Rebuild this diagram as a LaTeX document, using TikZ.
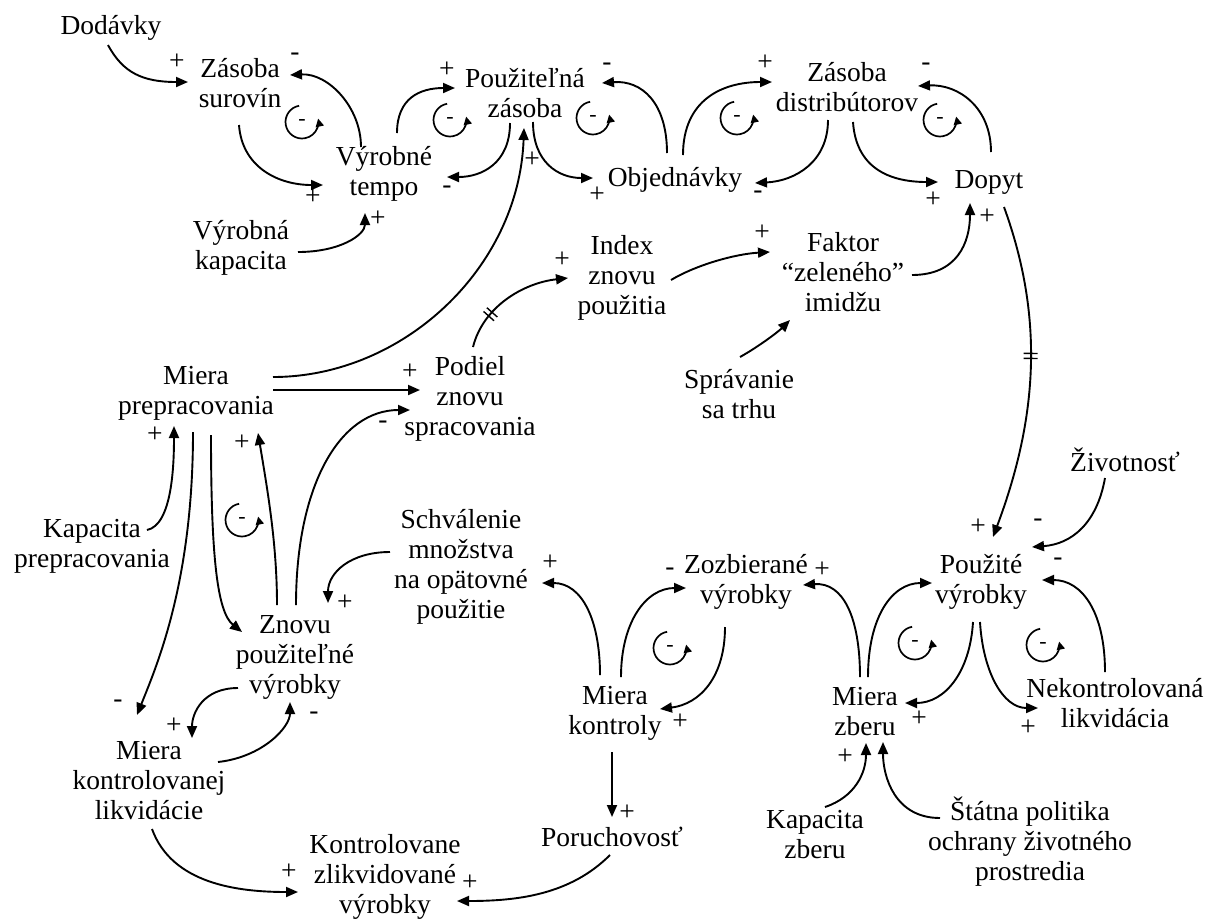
\documentclass[tikz,border=0pt]{standalone}
\usepackage{fontspec}
\setmainfont{Liberation Serif}
\usetikzlibrary{arrows.meta,decorations.markings}
\begin{document}
\begin{tikzpicture}[x=1pt,y=-1pt,
  lbl/.style={align=center,inner sep=0pt,font=\fontsize{27.5}{30}\selectfont},
  sgn/.style={inner sep=0pt,font=\fontsize{27.5}{30}\selectfont},
  lps/.style={inner sep=0pt,font=\fontsize{22}{24}\selectfont},
  arr/.style={line width=1.9pt,-{Triangle[length=12pt,width=10pt]}},
  lparr/.style={line width=1.7pt,-{Triangle[length=8pt,width=8pt]}},
  delay/.style={postaction={decorate,decoration={markings,
     mark=at position #1 with {\draw[line width=1.4pt,-] (-2.5pt,-7pt)--(-2.5pt,7pt) (2.5pt,-7pt)--(2.5pt,7pt);}}}}
]
\path[fill=white,use as bounding box] (0,0) rectangle (1208,922);

% ---------- variables ----------
\node[lbl] (dod) at (111,28) {Dodávky};
\node[lbl] (zs)  at (240,83) {Zásoba\\surovín};
\node[lbl] (vt)  at (384,174) {Výrobné\\tempo};
\node[lbl] (vk)  at (241,248) {Výrobná\\kapacita};
\node[lbl] (pz)  at (525,93) {Použiteľná\\zásoba};
\node[lbl] (obj) at (675,180) {Objednávky};
\node[lbl] (zd)  at (847,87) {Zásoba\\distribútorov};
\node[lbl] (dop) at (989,182) {Dopyt};
\node[lbl] (idx) at (622,278) {Index\\znovu\\použitia};
\node[lbl] (fak) at (843,272) {Faktor\\“zeleného”\\imidžu};
\node[lbl] (spr) at (739,394) {Správanie\\sa trhu};
\node[lbl] (pod) at (470,399) {Podiel\\znovu\\spracovania};
\node[lbl] (mp)  at (196,393) {Miera\\prepracovania};
\node[lbl] (kp)  at (92,546) {Kapacita\\prepracovania};
\node[lbl] (sch) at (461,567) {Schválenie\\množstva\\na opätovné\\použitie};
\node[lbl] (zoz) at (746,582) {Zozbierané\\výrobky};
\node[lbl] (pv)  at (981,582) {Použité\\výrobky};
\node[lbl] (ziv) at (1125,460) {Životnosť};
\node[lbl] (znp) at (295,657) {Znovu\\použiteľné\\výrobky};
\node[lbl] (mk)  at (615,713) {Miera\\kontroly};
\node[lbl] (mz)  at (865,712) {Miera\\zberu};
\node[lbl] (nl)  at (1115,703) {Nekontrolovaná\\likvidácia};
\node[lbl] (mkl) at (149,781) {Miera\\kontrolovanej\\likvidácie};
\node[lbl] (por) at (612,837) {Poruchovosť};
\node[lbl] (kzv) at (385,877) {Kontrolovane\\zlikvidované\\výrobky};
\node[lbl] (kz)  at (815,835) {Kapacita\\zberu};
\node[lbl] (sp)  at (1030,842) {Štátna politika\\ochrany životného\\prostredia};

% ---------- links ----------
\draw[arr] ([shift={(-3,17)}]dod.center) .. controls +(15,28) and +(-45,0) .. ([shift={(-52,-1)}]zs.center);
\draw[arr] ([shift={(-23,-27)}]vt.center) .. controls +(0,-40) and +(38,-2) .. ([shift={(50,-8)}]zs.center);
\draw[arr] ([shift={(-1,42)}]zs.center) .. controls +(3,42) and +(-45,0) .. ([shift={(-61,11)}]vt.center);
\draw[arr] ([shift={(57,4)}]vk.center) .. controls +(42,0) and +(0,22) .. ([shift={(-19,39)}]vt.center);
\draw[arr] ([shift={(13,-41)}]vt.center) .. controls +(0,-35) and +(-35,0) .. ([shift={(-70,-5)}]pz.center);
\draw[arr] ([shift={(-15,30)}]pz.center) .. controls +(0,40) and +(35,0) .. ([shift={(63,3)}]vt.center);
\draw[arr] ([shift={(8,29)}]pz.center) .. controls +(0,40) and +(-35,0) .. ([shift={(-82,-2)}]obj.center);
\draw[arr] ([shift={(-8,-27)}]obj.center) .. controls +(0,-50) and +(40,-3) .. ([shift={(77,-10)}]pz.center);
\draw[arr] ([shift={(8,-25)}]obj.center) .. controls +(0,-55) and +(-50,0) .. ([shift={(-75,-5)}]zd.center);
\draw[arr] ([shift={(-19,33)}]zd.center) .. controls +(0,42) and +(40,-2) .. ([shift={(80,3)}]obj.center);
\draw[arr] ([shift={(6,35)}]zd.center) .. controls +(3,45) and +(-50,0) .. ([shift={(-51,0)}]dop.center);
\draw[arr] ([shift={(2,-30)}]dop.center) .. controls +(0,-45) and +(40,-2) .. ([shift={(71,-1)}]zd.center);
\draw[arr] ([shift={(69,3)}]fak.center) .. controls +(45,0) and +(0,40) .. ([shift={(-19,21)}]dop.center);
\draw[arr] ([shift={(49,2)}]idx.center) .. controls +(25,-15) and +(-35,2) .. ([shift={(-73,-20)}]fak.center);
\draw[arr] ([shift={(1,-37)}]spr.center) .. controls +(18,-10) and +(-12,12) .. ([shift={(-53,48)}]fak.center);
\draw[arr,delay=0.3] ([shift={(3,-52)}]pod.center) .. controls +(10,-40) and +(-45,5) .. ([shift={(-54,0)}]idx.center);
\draw[arr] ([shift={(77,-16)}]mp.center) .. controls +(130,0) and +(-5,140) .. ([shift={(-1,35)}]pz.center);
\draw[arr] ([shift={(77,-3)}]mp.center) -- ([shift={(-50,-9)}]pod.center);
\draw[arr] ([shift={(1,-52)}]znp.center) .. controls +(0,-120) and +(-70,0) .. ([shift={(-60,11)}]pod.center);
\draw[arr,delay=0.45] ([shift={(15,25)}]dop.center) .. controls +(40,110) and +(45,-120) .. ([shift={(12,-45)}]pv.center);
\draw[arr] ([shift={(-20,18)}]ziv.center) .. controls +(-8,45) and +(40,-3) .. ([shift={(51,-35)}]pv.center);
\draw[arr] ([shift={(-10,-31)}]nl.center) .. controls +(0,-60) and +(40,0) .. ([shift={(61,-2)}]pv.center);
\draw[arr] ([shift={(-1,40)}]pv.center) .. controls +(3,50) and +(-35,0) .. ([shift={(-77,5)}]nl.center);
\draw[arr] ([shift={(-8,40)}]pv.center) .. controls +(-3,50) and +(40,0) .. ([shift={(40,-9)}]mz.center);
\draw[arr] ([shift={(3,-35)}]mz.center) .. controls +(0,-60) and +(-40,0) .. ([shift={(-49,1)}]pv.center);
\draw[arr] ([shift={(-5,-35)}]mz.center) .. controls +(0,-60) and +(40,-3) .. ([shift={(57,3)}]zoz.center);
\draw[arr] ([shift={(-21,45)}]zoz.center) .. controls +(0,50) and +(40,-5) .. ([shift={(45,-4)}]mk.center);
\draw[arr] ([shift={(6,-36)}]mk.center) .. controls +(0,-55) and +(-40,0) .. ([shift={(-60,6)}]zoz.center);
\draw[arr] ([shift={(-15,-38)}]mk.center) .. controls +(0,-55) and +(40,0) .. ([shift={(81,16)}]sch.center);
\draw[arr] ([shift={(-71,-15)}]sch.center) .. controls +(-40,0) and +(0,-30) .. ([shift={(33,-54)}]znp.center);
\draw[arr] ([shift={(15,42)}]mp.center) .. controls +(0,120) and +(-25,-20) .. ([shift={(-53,-25)}]znp.center);
\draw[arr] ([shift={(-18,-52)}]znp.center) .. controls +(0,-60) and +(10,60) .. ([shift={(62,40)}]mp.center);
\draw[arr] ([shift={(55,-16)}]kp.center) .. controls +(25,-5) and +(0,40) .. ([shift={(-22,33)}]mp.center);
\draw[arr] ([shift={(-3,39)}]mp.center) .. controls +(0,150) and +(20,-50) .. ([shift={(-12,-66)}]mkl.center);
\draw[arr] ([shift={(-57,31)}]znp.center) .. controls +(-35,0) and +(0,-25) .. ([shift={(43,-43)}]mkl.center);
\draw[arr] ([shift={(69,-19)}]mkl.center) .. controls +(45,-5) and +(0,25) .. ([shift={(-5,45)}]znp.center);
\draw[arr] ([shift={(3,48)}]mkl.center) .. controls +(20,55) and +(-60,0) .. ([shift={(-87,15)}]kzv.center);
\draw[arr] ([shift={(-2,18)}]por.center) .. controls +(-40,40) and +(60,0) .. ([shift={(72,24)}]kzv.center);
\draw[arr] ([shift={(-3,39)}]mk.center) -- ([shift={(0,-20)}]por.center);
\draw[arr] ([shift={(10,-28)}]kz.center) .. controls +(30,-10) and +(0,30) .. ([shift={(1,31)}]mz.center);
\draw[arr] ([shift={(-90,-24)}]sp.center) .. controls +(-45,0) and +(0,35) .. ([shift={(18,30)}]mz.center);

% ---------- polarity signs ----------
\foreach \n/\s/\x/\y in {s1/+/177/62, s2/-/295/57, s3/+/313/197, s4/+/378/219,
  s5/+/447/70, s6/-/447/190, s7/+/597/195, s8/-/607/67, s9/+/765/63,
  s10/-/758/195, s11/+/933/200, s12/-/926/67, s13/+/987/217, s14/+/762/233,
  s15/+/562/260, s16/+/532/160, s17/+/410/372, s18/-/383/425, s19/+/978/527,
  s20/-/1038/523, s21/-/1058/562, s22/+/1028/728, s23/+/919/719, s24/+/822/570,
  s25/+/680/722, s26/-/670/572, s27/+/550/563, s28/+/345/603, s29/+/242/443,
  s30/+/155/435, s31/-/118/704, s32/+/174/726, s33/-/314/716, s34/+/289/872,
  s35/+/470/883, s36/+/627/813, s37/+/845/757}
  \node[sgn] (\n) at (\x,\y) {\s};

% ---------- loop symbols ----------
\foreach \n/\x/\y in {l1/302/122, l2/450/120, l3/593/118, l4/737/118, l5/940/120,
  l6/1043/645, l7/915/643, l8/670/648, l9/242/520}
  \node[lps] (\n) at (\x,\y) {-};
\begin{scope}[y=1pt]
\foreach \n in {l1,l2,l3,l4,l5,l6,l7,l8,l9}
  \draw[lparr] (\n.center) ++(100:16.5) arc[start angle=100,end angle=372,radius=16.5];
\end{scope}
\end{tikzpicture}
\end{document}
